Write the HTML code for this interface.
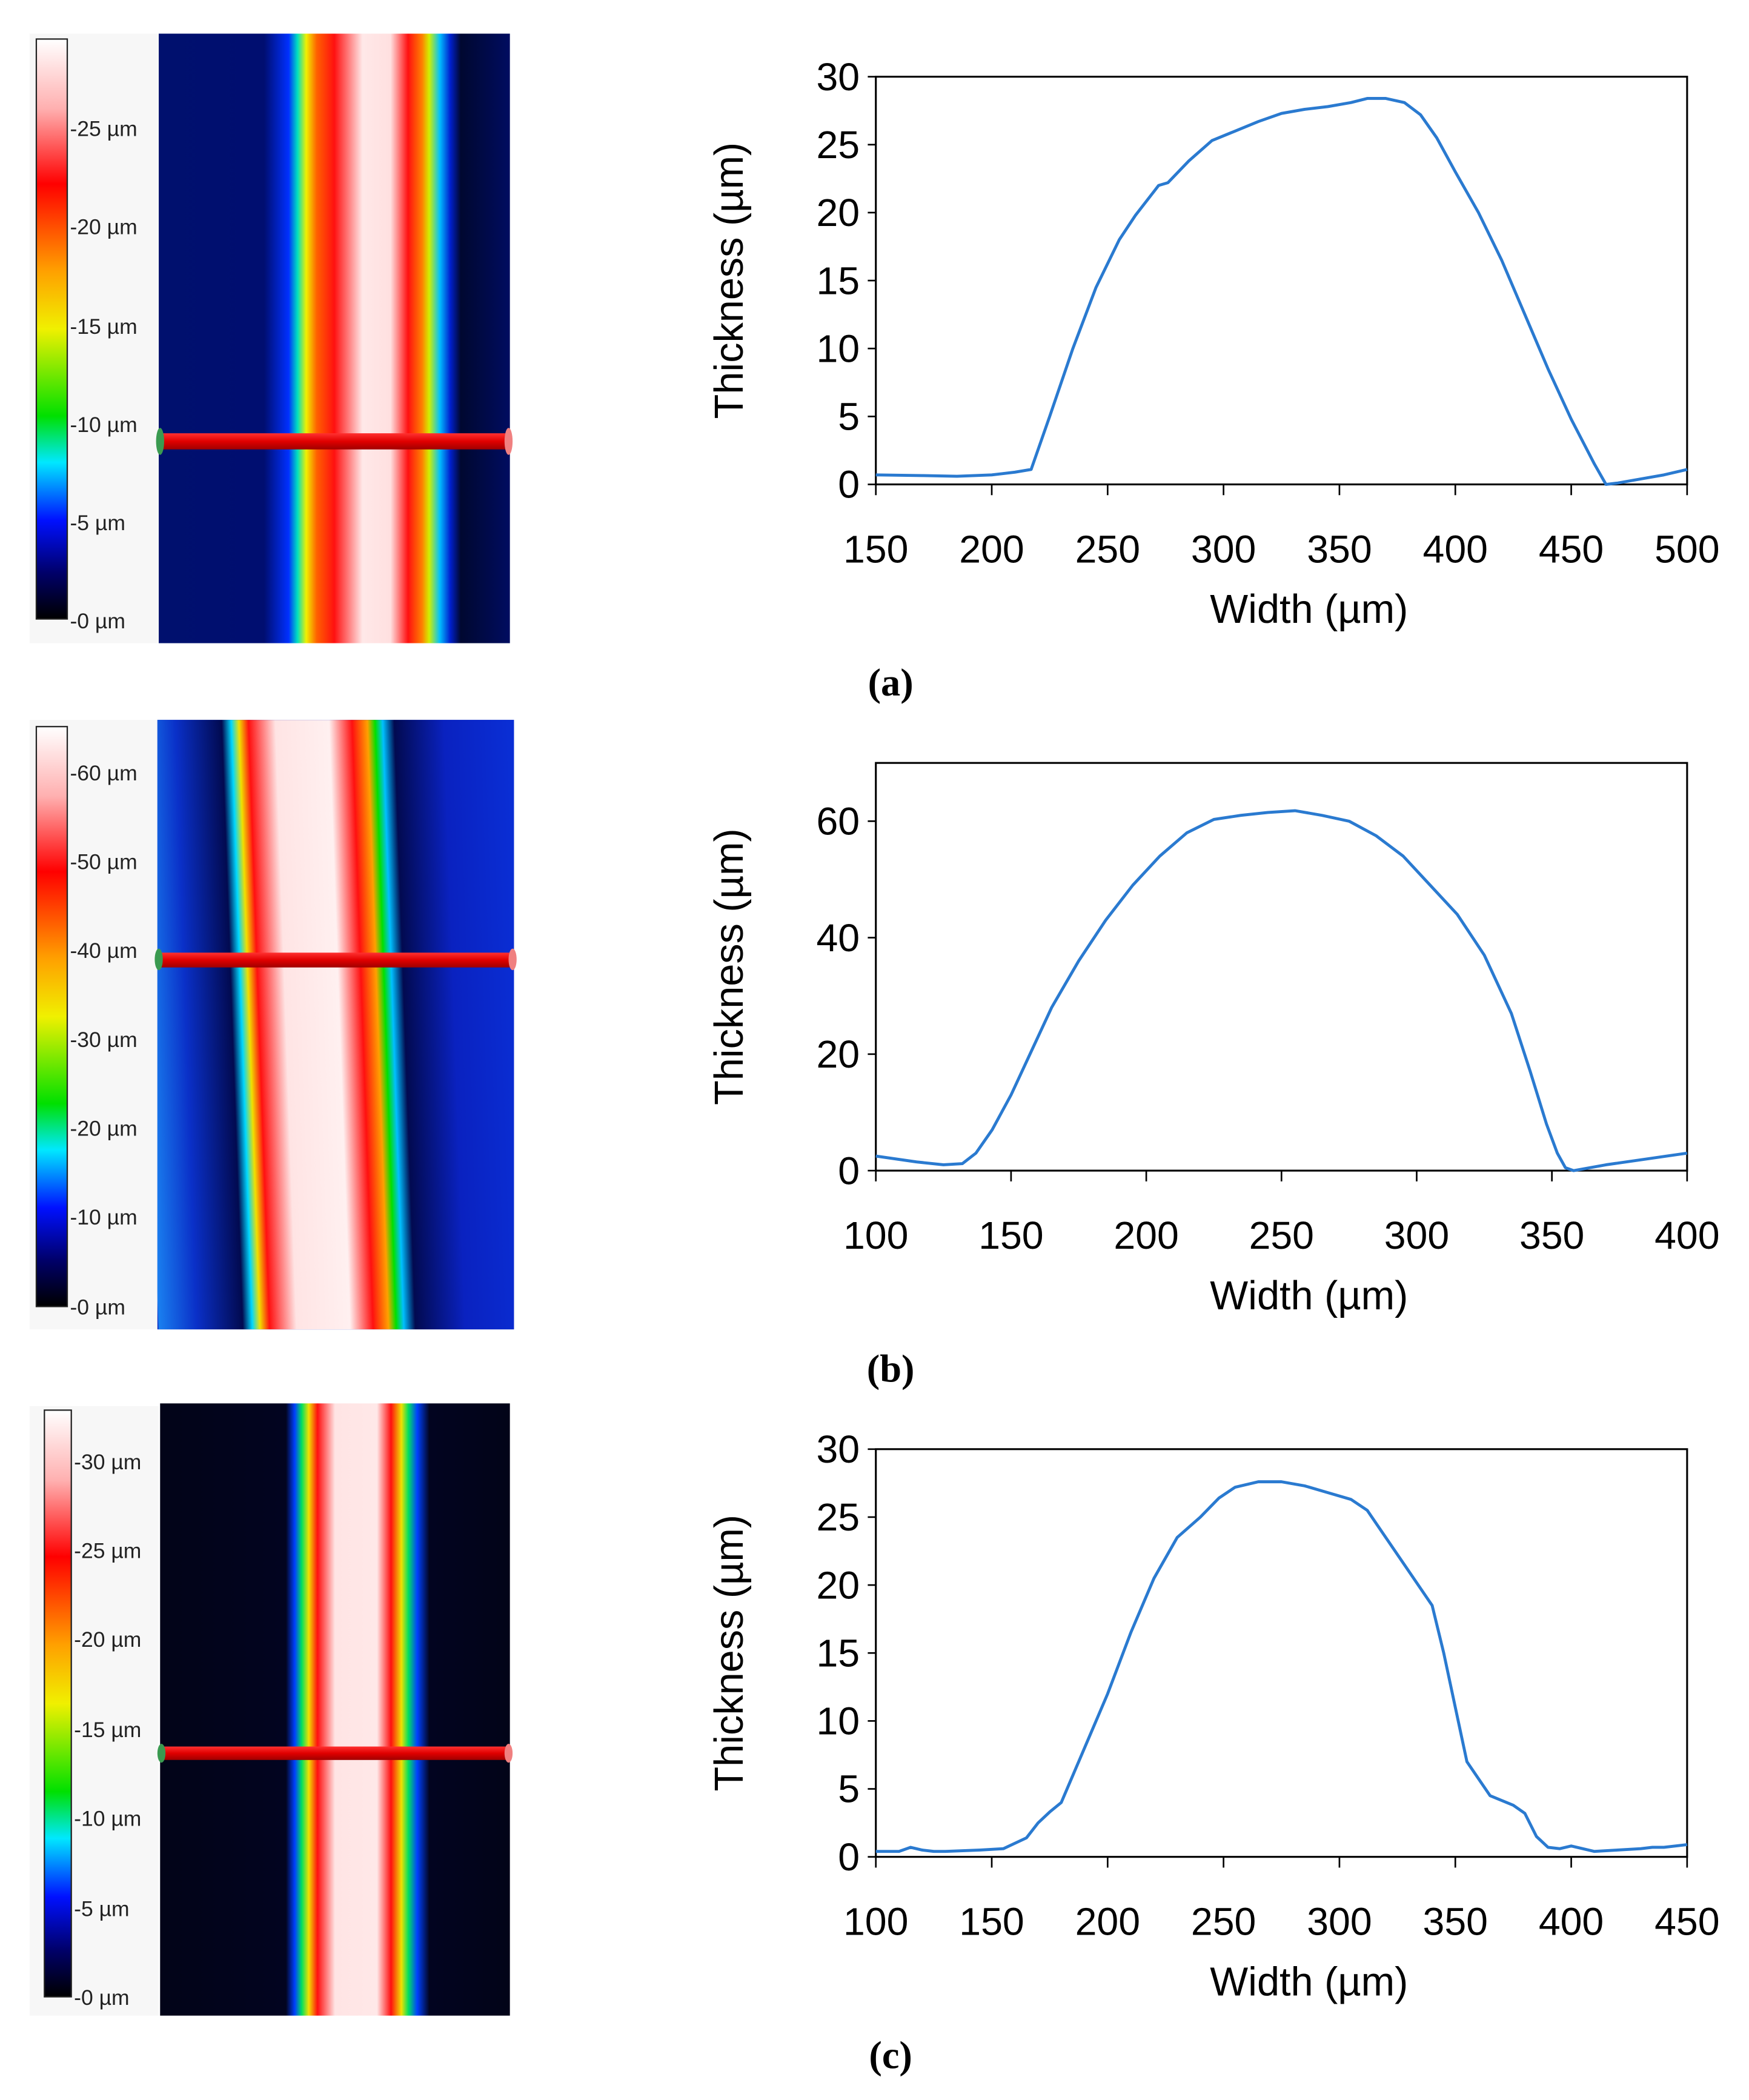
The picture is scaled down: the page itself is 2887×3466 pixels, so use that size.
<!DOCTYPE html>
<html><head><meta charset="utf-8"><style>
html,body{margin:0;padding:0;background:#fff;}
svg{display:block;}
text{font-family:"Liberation Sans",sans-serif;}
</style></head><body>
<svg id="fig" width="2887" height="3466" viewBox="0 0 1300 1560.7" xmlns="http://www.w3.org/2000/svg">
<defs>
<linearGradient id="cbA" x1="0" y1="1" x2="0" y2="0">
<stop offset="0" stop-color="#000"/><stop offset="0.08" stop-color="#00006a"/><stop offset="0.17" stop-color="#0010ff"/><stop offset="0.27" stop-color="#00e8ff"/><stop offset="0.35" stop-color="#00e000"/><stop offset="0.5" stop-color="#f0f000"/><stop offset="0.6" stop-color="#ffa000"/><stop offset="0.75" stop-color="#ff0000"/><stop offset="0.88" stop-color="#ffb0b0"/><stop offset="1" stop-color="#fff"/>
</linearGradient>
<linearGradient id="hmA" x1="0" y1="0" x2="1" y2="0">
<stop offset="0" stop-color="#00106e"/><stop offset="0.3" stop-color="#000e70"/><stop offset="0.37" stop-color="#0030ff"/><stop offset="0.395" stop-color="#00e0c0"/><stop offset="0.42" stop-color="#f0f000"/><stop offset="0.45" stop-color="#ff6000"/><stop offset="0.5" stop-color="#ff1010"/><stop offset="0.58" stop-color="#ffe8e8"/><stop offset="0.66" stop-color="#ffe0e0"/><stop offset="0.71" stop-color="#ff1010"/><stop offset="0.75" stop-color="#ff8000"/><stop offset="0.77" stop-color="#d0f000"/><stop offset="0.8" stop-color="#00c0ff"/><stop offset="0.83" stop-color="#0020d0"/><stop offset="0.86" stop-color="#000830"/><stop offset="1" stop-color="#000c60"/>
</linearGradient>
<linearGradient id="hmB" x1="0" y1="0" x2="1" y2="0">
<stop offset="0" stop-color="#1a80f0"/><stop offset="0.1" stop-color="#0a30c8"/><stop offset="0.22" stop-color="#020a50"/><stop offset="0.245" stop-color="#00d8ff"/><stop offset="0.265" stop-color="#f0e000"/><stop offset="0.29" stop-color="#ff1010"/><stop offset="0.36" stop-color="#ffe4e4"/><stop offset="0.5" stop-color="#fff0f0"/><stop offset="0.56" stop-color="#ff1010"/><stop offset="0.6" stop-color="#ffa000"/><stop offset="0.62" stop-color="#00e000"/><stop offset="0.64" stop-color="#00c0ff"/><stop offset="0.67" stop-color="#020a50"/><stop offset="0.8" stop-color="#0a22c0"/><stop offset="1" stop-color="#0a30d8"/>
</linearGradient>
<linearGradient id="hmC" x1="0" y1="0" x2="1" y2="0">
<stop offset="0" stop-color="#020418"/><stop offset="0.36" stop-color="#020420"/><stop offset="0.385" stop-color="#0040ff"/><stop offset="0.405" stop-color="#00e060"/><stop offset="0.425" stop-color="#f0e000"/><stop offset="0.45" stop-color="#ff1010"/><stop offset="0.5" stop-color="#ffe4e4"/><stop offset="0.62" stop-color="#ffe8e8"/><stop offset="0.66" stop-color="#ff1010"/><stop offset="0.69" stop-color="#f0e000"/><stop offset="0.71" stop-color="#00e060"/><stop offset="0.735" stop-color="#0040ff"/><stop offset="0.77" stop-color="#020420"/><stop offset="1" stop-color="#020418"/>
</linearGradient>
<linearGradient id="barG" x1="0" y1="0" x2="0" y2="1">
<stop offset="0" stop-color="#ff3030"/><stop offset="0.5" stop-color="#e00000"/><stop offset="1" stop-color="#a00000"/>
</linearGradient>
<clipPath id="clipB"><rect x="117" y="535" width="265" height="453"/></clipPath>
</defs>

<!-- Panel A image -->
<g>
<rect x="22" y="25" width="96" height="453" fill="#f7f7f7"/>
<rect x="27" y="29" width="23" height="431" fill="url(#cbA)" stroke="#222" stroke-width="1"/>
<rect x="118" y="25" width="261" height="453" fill="url(#hmA)"/>
<rect x="118" y="322" width="261" height="12" fill="url(#barG)"/>
<ellipse cx="119" cy="328" rx="3" ry="10" fill="#3a9a50"/>
<ellipse cx="378" cy="328" rx="3" ry="10" fill="#f08080"/>
<g font-size="16" fill="#222">
<text x="52" y="101">-25 µm</text><text x="52" y="174">-20 µm</text><text x="52" y="248">-15 µm</text><text x="52" y="321">-10 µm</text><text x="52" y="394">-5 µm</text><text x="52" y="467">-0 µm</text>
</g>
</g>

<!-- Panel B image -->
<g>
<rect x="22" y="535" width="95" height="453" fill="#f7f7f7"/>
<rect x="27" y="540" width="23" height="431" fill="url(#cbA)" stroke="#222" stroke-width="1"/>
<rect x="117" y="535" width="265" height="453" fill="#0a28c0"/>
<g clip-path="url(#clipB)">
<g transform="translate(117 535) skewX(2)">
<rect x="-15" y="0" width="285" height="453" fill="url(#hmB)"/>
</g>
</g>
<rect x="117" y="708" width="265" height="11" fill="url(#barG)"/>
<ellipse cx="118" cy="713" rx="3" ry="8" fill="#3a9a50"/>
<ellipse cx="381" cy="713" rx="3" ry="8" fill="#f08080"/>
<g font-size="16" fill="#222">
<text x="52" y="580">-60 µm</text><text x="52" y="646">-50 µm</text><text x="52" y="712">-40 µm</text><text x="52" y="778">-30 µm</text><text x="52" y="844">-20 µm</text><text x="52" y="910">-10 µm</text><text x="52" y="977">-0 µm</text>
</g>
</g>

<!-- Panel C image -->
<g>
<rect x="22" y="1045" width="96" height="453" fill="#f7f7f7"/>
<rect x="33" y="1048" width="20" height="436" fill="url(#cbA)" stroke="#222" stroke-width="1"/>
<rect x="119" y="1043" width="260" height="455" fill="url(#hmC)"/>
<rect x="119" y="1298" width="260" height="10" fill="url(#barG)"/>
<ellipse cx="120" cy="1303" rx="3" ry="7" fill="#3a9a50"/>
<ellipse cx="378" cy="1303" rx="3" ry="7" fill="#f08080"/>
<g font-size="16" fill="#222">
<text x="55" y="1092">-30 µm</text><text x="55" y="1158">-25 µm</text><text x="55" y="1224">-20 µm</text><text x="55" y="1291">-15 µm</text><text x="55" y="1357">-10 µm</text><text x="55" y="1424">-5 µm</text><text x="55" y="1490">-0 µm</text>
</g>
</g>

<g id="charts"></g>
</svg>
<script>
// Chart (a)
const xA = [150,170,185,200,210,217,225,235,245,255,262,272,276,285,295,305,315,325,335,345,355,362,370,378,385,392,400,410,420,430,440,450,460,465,470,480,490,500];
const yA = [0.7,0.65,0.6,0.7,0.9,1.1,5,10,14.5,18,19.8,22,22.2,23.8,25.3,26,26.7,27.3,27.6,27.8,28.1,28.4,28.4,28.1,27.2,25.5,23,20,16.5,12.5,8.5,4.8,1.5,0,0.1,0.4,0.7,1.1];
const xTicksA = [150,200,250,300,350,400,450,500];
const yTicksA = [0,5,10,15,20,25,30];
// Chart (b)
const xB = [100,115,125,132,137,143,150,157,165,175,185,195,205,215,225,235,245,255,265,275,285,295,305,315,325,335,342,348,352,355,358,370,385,400];
const yB = [2.5,1.5,1,1.2,3,7,13,20,28,36,43,49,54,58,60.3,61,61.5,61.8,61,60,57.5,54,49,44,37,27,17,8,3,0.5,0,1,2,3];
const xTicksB = [100,150,200,250,300,350,400];
const yTicksB = [0,20,40,60];
// Chart (c)
const xC = [100,110,115,120,125,130,145,155,165,170,175,180,185,190,200,210,220,230,240,248,255,265,275,285,295,305,312,320,330,340,345,350,355,365,375,380,385,390,395,400,410,420,430,435,440,450];
const yC = [0.4,0.4,0.7,0.5,0.4,0.4,0.5,0.6,1.4,2.5,3.3,4,6,8,12,16.5,20.5,23.5,25,26.4,27.2,27.6,27.6,27.3,26.8,26.3,25.5,23.5,21,18.5,15,11,7,4.5,3.8,3.2,1.5,0.7,0.6,0.8,0.4,0.5,0.6,0.7,0.7,0.9];
const xTicksC = [100,150,200,250,300,350,400,450];
const yTicksC = [0,5,10,15,20,25,30];

const NS = "http://www.w3.org/2000/svg";
const root = document.getElementById('charts');
function mk(tag, attrs, parent){ const e=document.createElementNS(NS,tag); for(const k in attrs) e.setAttribute(k,attrs[k]); (parent||root).appendChild(e); return e; }

function chart(id, top, xs, ys, xt, yt, xmin, xmax, ymax, label){
  const L=651,R=1254,T=top,B=top+303;
  const sx=v=>L+(v-xmin)/(xmax-xmin)*(R-L);
  const sy=v=>B-v/ymax*(B-T);
  const g=mk('g',{});
  
  
  const box=mk('rect',{x:L,y:T,width:R-L,height:B-T,fill:'none',stroke:'#000','stroke-width':1.4},g);
  
  
  xt.forEach(v=>{
    const t=mk('line',{x1:sx(v),x2:sx(v),y1:B,y2:B+8,stroke:'#000','stroke-width':1.2},g);
    
    
    const tx=mk('text',{x:sx(v),y:B+58,'font-size':29,'text-anchor':'middle',fill:'#000'},g);
    tx.textContent=v;
    
    
  });
  yt.forEach(v=>{
    const t=mk('line',{x1:L-6,x2:L,y1:sy(v),y2:sy(v),stroke:'#000','stroke-width':1.2},g);
    
    
    const tx=mk('text',{x:L-12,y:sy(v)+10,'font-size':29,'text-anchor':'end',fill:'#000'},g);
    tx.textContent=v;
    
    
  });
  let d='';
  xs.forEach((v,i)=>{ d+=(i?'L':'M')+sx(v).toFixed(2)+' '+sy(ys[i]).toFixed(2); });
  const p=mk('path',{d:d,fill:'none',stroke:'#2a7ad0','stroke-width':2.2,'stroke-linejoin':'round'},g);
  
  
  const xl=mk('text',{x:973,y:B+103,'font-size':30,'text-anchor':'middle',fill:'#000'},g);
  xl.textContent='Width (µm)';
  
  
  const yc=(T+B)/2;
  const yl=mk('text',{x:0,y:0,'font-size':30,'text-anchor':'middle',fill:'#000',transform:`translate(552 ${yc}) rotate(-90)`},g);
  yl.textContent='Thickness (µm)';
  
  
  const cap=mk('text',{x:662,y:B+157,'font-size':29,'font-weight':'bold','text-anchor':'middle',fill:'#000',style:'font-family:"Liberation Serif",serif'},g);
  cap.textContent=label;
  
  
}
chart('a',57,xA,yA,xTicksA,yTicksA,150,500,30,'(a)');
chart('b',567,xB,yB,xTicksB,yTicksB,100,400,70,'(b)');
chart('c',1077,xC,yC,xTicksC,yTicksC,100,450,30,'(c)');
</script>
</body></html>
